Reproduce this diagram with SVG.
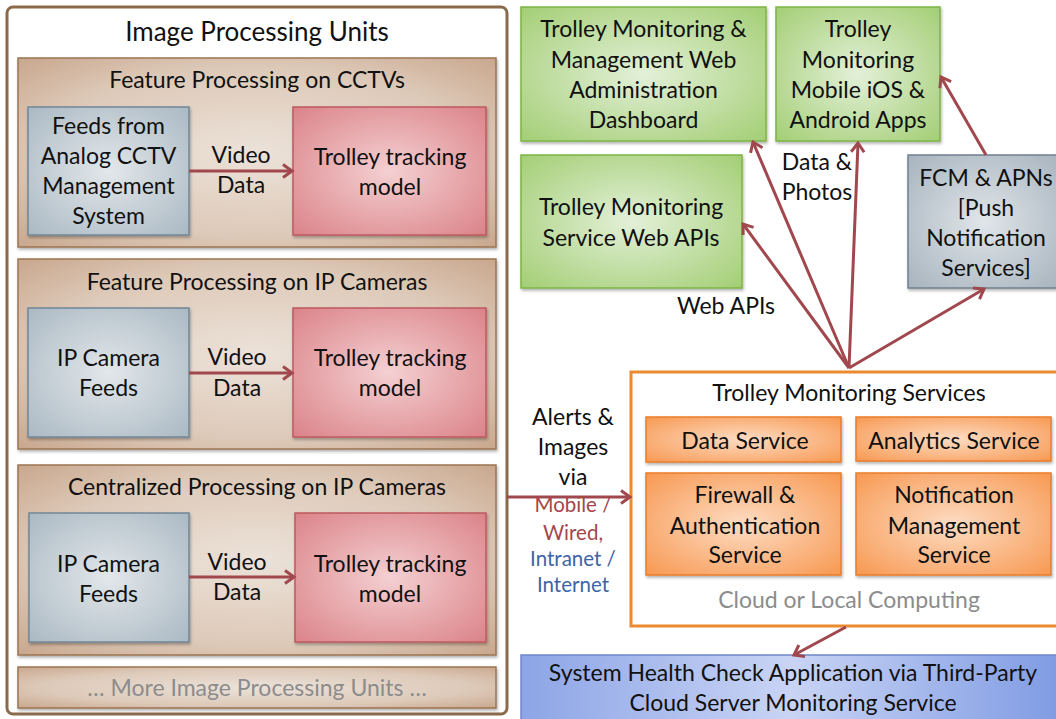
<svg xmlns="http://www.w3.org/2000/svg" width="1056" height="719" viewBox="0 0 1056 719">
<defs>
<radialGradient id="gBrown" cx="50%" cy="50%" r="75%"><stop offset="0" stop-color="#ECE2D9"/><stop offset="0.6" stop-color="#DDC9B8"/><stop offset="1" stop-color="#C5A186"/></radialGradient>
<radialGradient id="gBlue" cx="50%" cy="50%" r="75%"><stop offset="0" stop-color="#E2E7EA"/><stop offset="1" stop-color="#A7B6C1"/></radialGradient>
<radialGradient id="gRed" cx="50%" cy="50%" r="75%"><stop offset="0" stop-color="#F4D0D2"/><stop offset="1" stop-color="#D97E84"/></radialGradient>
<radialGradient id="gGreen" cx="50%" cy="50%" r="75%"><stop offset="0" stop-color="#E3F0D8"/><stop offset="1" stop-color="#9FCC6E"/></radialGradient>
<radialGradient id="gGray" cx="50%" cy="50%" r="75%"><stop offset="0" stop-color="#E0E5E9"/><stop offset="1" stop-color="#A3B0BB"/></radialGradient>
<radialGradient id="gOrange" cx="50%" cy="50%" r="75%"><stop offset="0" stop-color="#FDDCC3"/><stop offset="1" stop-color="#F7944A"/></radialGradient>
<linearGradient id="gHealth" x1="0" y1="0" x2="1" y2="0"><stop offset="0" stop-color="#8DA5E6"/><stop offset="0.5" stop-color="#C9D4F5"/><stop offset="1" stop-color="#7F9BE3"/></linearGradient>
<filter id="sh" x="-5%" y="-5%" width="115%" height="120%"><feDropShadow dx="1" dy="2" stdDeviation="1.5" flood-color="#000" flood-opacity="0.3"/></filter>
<marker id="ah" markerUnits="userSpaceOnUse" markerWidth="16" markerHeight="16" refX="12" refY="8" orient="auto"><path d="M3,1.5 L12,8 L3,14.5" fill="none" stroke="#A0484D" stroke-width="3" stroke-linejoin="miter"/></marker>
<style>
text{font-family:Lato,"Liberation Sans",sans-serif;font-size:23px;fill:#111;text-anchor:middle}
.t24{font-size:26px}
.panel{fill:url(#gBrown);stroke:#9B7552;stroke-width:1.5;filter:url(#sh)}
.blue{fill:url(#gBlue);stroke:#718797;stroke-width:1.5;filter:url(#sh)}
.red{fill:url(#gRed);stroke:#BE5A60;stroke-width:1.5;filter:url(#sh)}
.green{fill:url(#gGreen);stroke:#7DB446;stroke-width:1.5;filter:url(#sh)}
.gray{fill:url(#gGray);stroke:#718090;stroke-width:1.5;filter:url(#sh)}
.orange{fill:url(#gOrange);stroke:#EA7D2A;stroke-width:1.5;filter:url(#sh)}
.conn{stroke:#A0484D;stroke-width:3;fill:none;marker-end:url(#ah)}
.dim{fill:#8C8C8C}
.sm{font-size:20.5px}
.redt{fill:#A3474C}
.bluet{fill:#3E64A8}
</style>
</defs>
<rect width="1056" height="719" fill="#fff"/>

<g id="image-processing-units">
<rect x="7" y="7" width="500" height="707" rx="6" fill="#fff" stroke="#8B6A4B" stroke-width="3"/>
<text class="t24" x="257" y="41">Image Processing Units</text>
</g>

<g id="panel-cctv">
<rect class="panel" x="18" y="58" width="478" height="189"/>
<text x="257" y="88">Feature Processing on CCTVs</text>
</g>
<g id="feeds-analog">
<rect class="blue" x="28" y="107" width="161" height="128"/>
<text x="108.5" y="134">Feeds from</text><text x="108.5" y="164">Analog CCTV</text><text x="108.5" y="194">Management</text><text x="108.5" y="224">System</text>
</g>
<g id="model-1">
<rect class="red" x="293" y="107" width="193" height="128"/>
<text x="390" y="165">Trolley tracking</text><text x="390" y="195">model</text>
</g>

<g id="panel-ip">
<rect class="panel" x="18" y="259" width="478" height="190"/>
<text x="257" y="290">Feature Processing on IP Cameras</text>
</g>
<g id="feeds-ip-1">
<rect class="blue" x="28" y="308" width="161" height="129"/>
<text x="108.5" y="366">IP Camera</text><text x="108.5" y="396">Feeds</text>
</g>
<g id="model-2">
<rect class="red" x="293" y="308" width="193" height="129"/>
<text x="390" y="366">Trolley tracking</text><text x="390" y="396">model</text>
</g>

<g id="panel-central">
<rect class="panel" x="18" y="465" width="478" height="190"/>
<text x="257" y="495">Centralized Processing on IP Cameras</text>
</g>
<g id="feeds-ip-2">
<rect class="blue" x="29" y="513" width="160" height="129"/>
<text x="108.5" y="572">IP Camera</text><text x="108.5" y="602">Feeds</text>
</g>
<g id="model-3">
<rect class="red" x="295" y="513" width="191" height="129"/>
<text x="390" y="572">Trolley tracking</text><text x="390" y="602">model</text>
</g>

<g id="panel-more">
<rect class="panel" x="18" y="667" width="478" height="41"/>
<text class="dim" x="257" y="696">… More Image Processing Units …</text>
</g>

<g id="web-dashboard">
<rect class="green" x="521" y="7" width="245" height="134"/>
<text x="643.5" y="37">Trolley Monitoring &amp;</text><text x="643.5" y="68">Management Web</text><text x="643.5" y="98">Administration</text><text x="643.5" y="128">Dashboard</text>
</g>
<g id="mobile-apps">
<rect class="green" x="776" y="7" width="164" height="134"/>
<text x="858" y="37">Trolley</text><text x="858" y="68">Monitoring</text><text x="858" y="98">Mobile iOS &amp;</text><text x="858" y="128">Android Apps</text>
</g>
<g id="web-apis">
<rect class="green" x="521" y="155" width="221" height="133"/>
<text x="631" y="215">Trolley Monitoring</text><text x="631" y="246">Service Web APIs</text>
</g>
<g id="push">
<rect class="gray" x="908" y="155" width="152" height="133"/>
<text x="986" y="186">FCM &amp; APNs</text><text x="986" y="216">[Push</text><text x="986" y="246">Notification</text><text x="986" y="276">Services]</text>
</g>

<g id="tms">
<rect x="631" y="372" width="430" height="254" fill="#fff" stroke="#EB8A2E" stroke-width="3"/>
<text x="849" y="401">Trolley Monitoring Services</text>
<text class="dim" x="849" y="608">Cloud or Local Computing</text>
</g>
<g id="data-service">
<rect class="orange" x="646" y="417" width="195" height="45"/>
<text x="745" y="449">Data Service</text>
</g>
<g id="analytics-service">
<rect class="orange" x="856" y="417" width="195" height="44"/>
<text x="954" y="449">Analytics Service</text>
</g>
<g id="firewall-service">
<rect class="orange" x="646" y="473" width="195" height="102"/>
<text x="745" y="503">Firewall &amp;</text><text x="745" y="534">Authentication</text><text x="745" y="563">Service</text>
</g>
<g id="notification-service">
<rect class="orange" x="856" y="473" width="195" height="102"/>
<text x="954" y="503">Notification</text><text x="954" y="534">Management</text><text x="954" y="563">Service</text>
</g>

<g id="health-check">
<rect x="521" y="655" width="540" height="70" fill="url(#gHealth)" stroke="#6F87C9" stroke-width="1.5"/>
<text x="793" y="681">System Health Check Application via Third-Party</text><text x="793" y="711">Cloud Server Monitoring Service</text>
</g>

<g id="labels">
<text x="241" y="163">Video</text><text x="241" y="193">Data</text>
<text x="237" y="365">Video</text><text x="237" y="396">Data</text>
<text x="237" y="570">Video</text><text x="237" y="600">Data</text>
<text x="817" y="170">Data &amp;</text><text x="817" y="200">Photos</text>
<text x="726" y="314">Web APIs</text>
<text x="573" y="425">Alerts &amp;</text><text x="573" y="455">Images</text><text x="573" y="485">via</text>
<text class="sm redt" x="573" y="512">Mobile /</text><text class="sm redt" x="573" y="540">Wired,</text>
<text class="sm bluet" x="573" y="566">Intranet /</text><text class="sm bluet" x="573" y="592">Internet</text>
</g>

<g id="connectors">
<line class="conn" x1="189" y1="171" x2="292" y2="171"/>
<line class="conn" x1="189" y1="373" x2="292" y2="373"/>
<line class="conn" x1="189" y1="577" x2="294" y2="577"/>
<line class="conn" x1="507" y1="497" x2="630" y2="497"/>
<line class="conn" x1="849" y1="368" x2="753" y2="142"/>
<line class="conn" x1="849" y1="368" x2="858" y2="143"/>
<line class="conn" x1="849" y1="368" x2="743" y2="224"/>
<line class="conn" x1="849" y1="368" x2="984" y2="289"/>
<line class="conn" x1="986" y1="155" x2="941" y2="77"/>
<line class="conn" x1="846" y1="627" x2="794" y2="655"/>
</g>
</svg>
